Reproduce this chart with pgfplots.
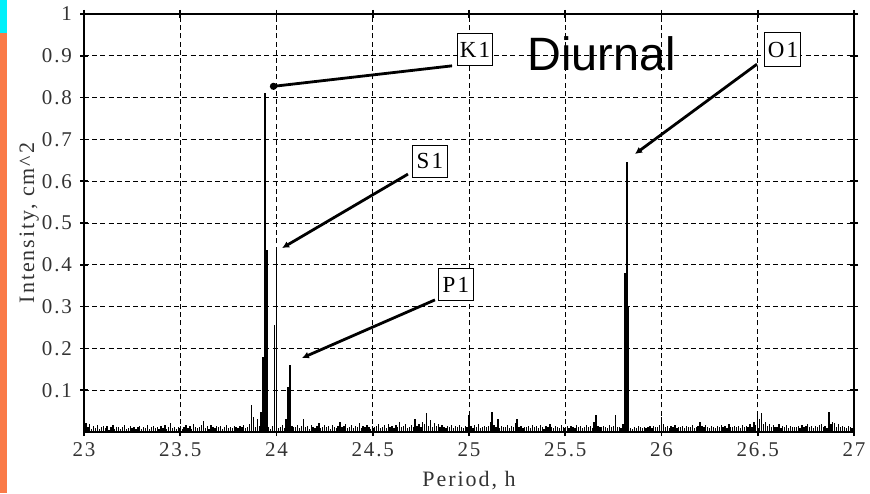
\documentclass[border=0pt]{standalone}
\usepackage{pgfplots}
\pgfplotsset{compat=1.18}
\usetikzlibrary{arrows.meta}
\usepackage{fontspec}
\setmainfont{Liberation Serif}
\newfontfamily\sansf{Liberation Sans}
\newfontfamily\spaced[LetterSpace=9]{Liberation Serif}
\definecolor{stripor}{RGB}{250,122,72}
\definecolor{stripcy}{RGB}{0,240,250}
\begin{document}
\begin{tikzpicture}
\useasboundingbox (0,0) rectangle (435pt,246.5pt);
\fill[stripor] (0,0) rectangle (3.5pt,246.5pt);
\fill[stripcy] (0,230pt) rectangle (3.5pt,246.5pt);
\begin{axis}[
  at={(42pt,30.5pt)}, anchor=south west,
  scale only axis, width=385pt, height=209pt,
  xmin=23, xmax=27, ymin=0, ymax=1,
  xtick={23,23.5,24,24.5,25,25.5,26,26.5,27},
  ytick={0.1,0.2,0.3,0.4,0.5,0.6,0.7,0.8,0.9,1},
  /pgf/number format/assume math mode=true,
  /pgf/number format/fixed,
  tick label style={font=\spaced\fontsize{10.5}{12}\selectfont, text=black!80},
  yticklabel style={xshift=-0.5pt},
  tick align=center, major tick length=4pt,
  tick style={black, line width=0.8pt},
  axis line style={black, line width=1.1pt},
  grid=major,
  major grid style={black, line width=0.5pt, dash pattern=on 2.5pt off 1.6pt},
  xlabel={Period, h}, ylabel={Intensity, cm\textasciicircum 2},
  label style={font=\spaced\fontsize{11}{12}\selectfont, text=black!80},
  xlabel style={at={(axis description cs:0.5,0)}, yshift=-24.5pt, anchor=center},
  ylabel style={at={(axis description cs:-0.071,0.5)}, anchor=center},
  clip=true,
]
\addplot[ycomb, black, line width=0.65pt, mark=none] table[x=x, y=y] {
x y
23.00 0.030
23.01 0.022
23.02 0.012
23.03 0.018
23.04 0.008
23.05 0.015
23.06 0.010
23.07 0.017
23.08 0.006
23.09 0.012
23.10 0.015
23.11 0.009
23.12 0.014
23.13 0.005
23.14 0.012
23.15 0.016
23.16 0.008
23.17 0.011
23.18 0.013
23.19 0.007
23.20 0.012
23.21 0.016
23.22 0.006
23.23 0.010
23.24 0.014
23.25 0.009
23.26 0.013
23.27 0.007
23.28 0.012
23.29 0.015
23.30 0.008
23.31 0.013
23.32 0.010
23.33 0.016
23.34 0.006
23.35 0.011
23.36 0.014
23.37 0.009
23.38 0.012
23.39 0.007
23.40 0.014
23.41 0.010
23.42 0.017
23.43 0.008
23.44 0.012
23.45 0.021
23.46 0.009
23.47 0.013
23.48 0.006
23.49 0.011
23.50 0.015
23.51 0.008
23.52 0.012
23.53 0.016
23.54 0.010
23.55 0.014
23.56 0.007
23.57 0.018
23.58 0.011
23.59 0.009
23.60 0.013
23.61 0.016
23.62 0.026
23.63 0.010
23.64 0.014
23.65 0.008
23.66 0.017
23.67 0.012
23.68 0.009
23.69 0.015
23.70 0.011
23.71 0.014
23.72 0.008
23.73 0.012
23.74 0.016
23.75 0.009
23.76 0.013
23.77 0.010
23.78 0.015
23.79 0.012
23.80 0.009
23.81 0.014
23.82 0.011
23.83 0.016
23.84 0.010
23.85 0.013
23.86 0.020
23.87 0.065
23.88 0.035
23.89 0.012
23.90 0.030
23.91 0.015
23.92 0.048
23.93 0.180
23.94 0.811
23.95 0.435
23.96 0.012
23.97 0.008
23.98 0.014
23.99 0.256
24.00 0.443
24.01 0.010
24.02 0.012
24.03 0.016
24.04 0.009
24.05 0.030
24.06 0.108
24.07 0.160
24.08 0.014
24.09 0.011
24.10 0.013
24.11 0.017
24.12 0.009
24.13 0.015
24.14 0.030
24.15 0.011
24.16 0.014
24.17 0.008
24.18 0.016
24.19 0.012
24.20 0.010
24.21 0.015
24.22 0.022
24.23 0.009
24.24 0.013
24.25 0.017
24.26 0.011
24.27 0.014
24.28 0.008
24.29 0.016
24.30 0.012
24.31 0.009
24.32 0.015
24.33 0.025
24.34 0.011
24.35 0.014
24.36 0.018
24.37 0.010
24.38 0.013
24.39 0.016
24.40 0.009
24.41 0.014
24.42 0.012
24.43 0.022
24.44 0.010
24.45 0.015
24.46 0.011
24.47 0.017
24.48 0.013
24.49 0.008
24.50 0.015
24.51 0.011
24.52 0.014
24.53 0.018
24.54 0.009
24.55 0.013
24.56 0.016
24.57 0.010
24.58 0.020
24.59 0.012
24.60 0.014
24.61 0.009
24.62 0.017
24.63 0.012
24.64 0.024
24.65 0.011
24.66 0.015
24.67 0.018
24.68 0.010
24.69 0.013
24.70 0.016
24.71 0.012
24.72 0.030
24.73 0.014
24.74 0.020
24.75 0.011
24.76 0.025
24.77 0.018
24.78 0.045
24.79 0.015
24.80 0.028
24.81 0.012
24.82 0.022
24.83 0.014
24.84 0.018
24.85 0.011
24.86 0.016
24.87 0.013
24.88 0.010
24.89 0.015
24.90 0.012
24.91 0.017
24.92 0.010
24.93 0.014
24.94 0.011
24.95 0.016
24.96 0.013
24.97 0.009
24.98 0.015
24.99 0.012
25.00 0.040
25.01 0.014
25.02 0.010
25.03 0.016
25.04 0.012
25.05 0.018
25.06 0.009
25.07 0.013
25.08 0.015
25.09 0.011
25.10 0.014
25.11 0.025
25.12 0.048
25.13 0.016
25.14 0.012
25.15 0.030
25.16 0.010
25.17 0.015
25.18 0.013
25.19 0.011
25.20 0.016
25.21 0.009
25.22 0.014
25.23 0.012
25.24 0.022
25.25 0.030
25.26 0.011
25.27 0.015
25.28 0.010
25.29 0.013
25.30 0.012
25.31 0.015
25.32 0.009
25.33 0.017
25.34 0.011
25.35 0.014
25.36 0.010
25.37 0.016
25.38 0.012
25.39 0.008
25.40 0.014
25.41 0.011
25.42 0.018
25.43 0.012
25.44 0.009
25.45 0.015
25.46 0.013
25.47 0.010
25.48 0.016
25.49 0.012
25.50 0.011
25.51 0.014
25.52 0.010
25.53 0.015
25.54 0.013
25.55 0.009
25.56 0.016
25.57 0.012
25.58 0.014
25.59 0.010
25.60 0.013
25.61 0.016
25.62 0.012
25.63 0.015
25.64 0.010
25.65 0.025
25.66 0.040
25.67 0.014
25.68 0.011
25.69 0.013
25.70 0.015
25.71 0.012
25.72 0.010
25.73 0.016
25.74 0.011
25.75 0.014
25.76 0.040
25.77 0.013
25.78 0.012
25.79 0.009
25.80 0.020
25.81 0.380
25.82 0.646
25.83 0.300
25.84 0.010
25.85 0.008
25.86 0.012
25.87 0.009
25.88 0.014
25.89 0.011
25.90 0.010
25.91 0.013
25.92 0.009
25.93 0.012
25.94 0.015
25.95 0.010
25.96 0.014
25.97 0.011
25.98 0.013
25.99 0.016
26.00 0.035
26.01 0.020
26.02 0.012
26.03 0.015
26.04 0.009
26.05 0.014
26.06 0.011
26.07 0.016
26.08 0.010
26.09 0.013
26.10 0.012
26.11 0.015
26.12 0.010
26.13 0.014
26.14 0.011
26.15 0.013
26.16 0.016
26.17 0.009
26.18 0.012
26.19 0.015
26.20 0.025
26.21 0.014
26.22 0.011
26.23 0.016
26.24 0.012
26.25 0.010
26.26 0.015
26.27 0.013
26.28 0.009
26.29 0.014
26.30 0.011
26.31 0.016
26.32 0.012
26.33 0.014
26.34 0.010
26.35 0.018
26.36 0.013
26.37 0.011
26.38 0.015
26.39 0.012
26.40 0.014
26.41 0.010
26.42 0.016
26.43 0.012
26.44 0.015
26.45 0.011
26.46 0.020
26.47 0.013
26.48 0.025
26.49 0.016
26.50 0.050
26.51 0.030
26.52 0.045
26.53 0.018
26.54 0.025
26.55 0.014
26.56 0.020
26.57 0.012
26.58 0.016
26.59 0.011
26.60 0.013
26.61 0.018
26.62 0.010
26.63 0.015
26.64 0.012
26.65 0.016
26.66 0.009
26.67 0.014
26.68 0.011
26.69 0.013
26.70 0.012
26.71 0.015
26.72 0.010
26.73 0.017
26.74 0.011
26.75 0.014
26.76 0.018
26.77 0.012
26.78 0.015
26.79 0.010
26.80 0.014
26.81 0.011
26.82 0.016
26.83 0.020
26.84 0.012
26.85 0.015
26.86 0.010
26.87 0.047
26.88 0.018
26.89 0.025
26.90 0.022
26.91 0.013
26.92 0.018
26.93 0.011
26.94 0.015
26.95 0.012
26.96 0.010
26.97 0.014
26.98 0.011
26.99 0.009
27.00 0.010
};
% annotations
\draw[line width=1.4pt, -{Circle[length=3.5pt]}] (axis cs:24.912,0.876) -- (axis cs:23.966,0.826);
\draw[line width=1.4pt, -{Latex[length=3.5pt,width=3.5pt]}] (axis cs:24.683,0.617) -- (axis cs:24.029,0.440);
\draw[line width=1.4pt, -{Latex[length=3.5pt,width=3.5pt]}] (axis cs:24.823,0.316) -- (axis cs:24.132,0.177);
\draw[line width=1.4pt, -{Latex[length=3.5pt,width=3.5pt]}] (axis cs:26.496,0.880) -- (axis cs:25.862,0.665);
\tikzset{lbl/.style={draw=black, line width=0.5pt, fill=white, inner sep=0pt, minimum width=17.5pt, minimum height=16pt, font=\spaced\fontsize{11.5}{12}\selectfont}}
\node[lbl] at (axis cs:25.031,0.914) {K1};
\node[lbl] at (axis cs:24.797,0.648) {S1};
\node[lbl] at (axis cs:24.932,0.352) {P1};
\node[lbl, minimum width=18pt, minimum height=17pt] at (axis cs:26.631,0.914) {O1};
\node[anchor=base west, inner sep=0pt, font=\sansf\fontsize{23.4}{26}\selectfont] at (axis cs:25.301,0.866) {Diurnal};
\end{axis}
\end{tikzpicture}
\end{document}
